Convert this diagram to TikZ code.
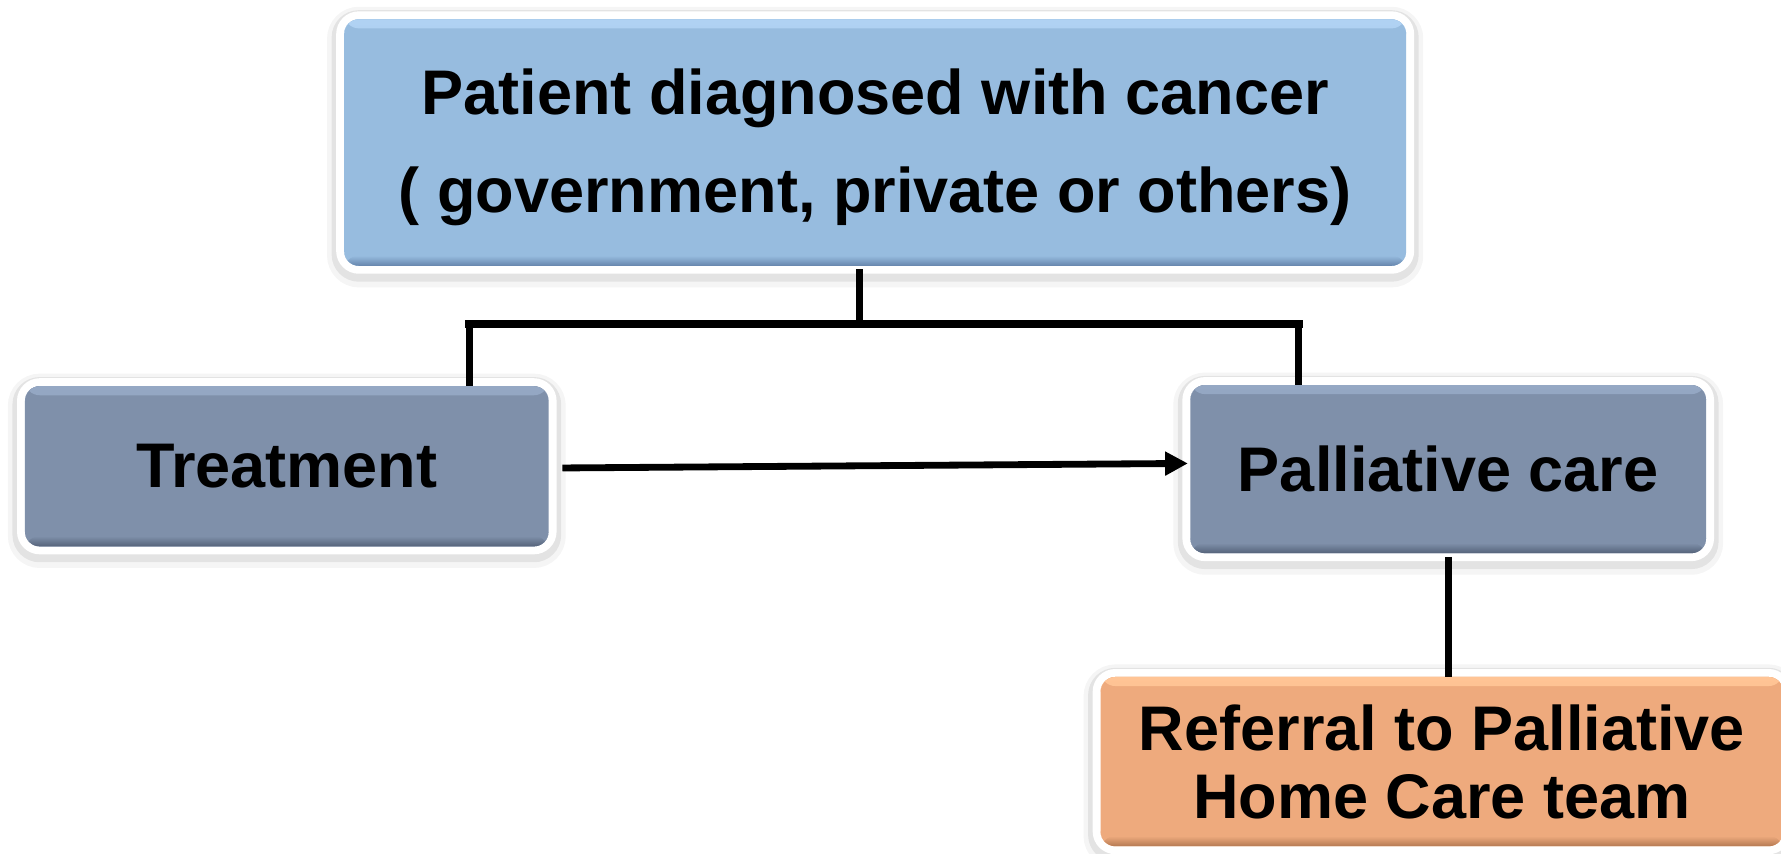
\documentclass[tikz,border=0pt]{standalone}
\usepackage{fontspec}
\setmainfont{Liberation Sans}
\usetikzlibrary{arrows.meta}
\definecolor{blueF}{HTML}{97BCDF}
\definecolor{blueL}{HTML}{B0D2F3}
\definecolor{blueD}{HTML}{6685AC}
\definecolor{slateF}{HTML}{7F90AA}
\definecolor{slateL}{HTML}{95A8C4}
\definecolor{slateD}{HTML}{55637A}
\definecolor{orgF}{HTML}{EEAA7D}
\definecolor{orgL}{HTML}{FFC495}
\definecolor{orgD}{HTML}{B57A53}
\begin{document}
\begin{tikzpicture}[x=1pt,y=-1pt,
  box/.style n args={3}{rectangle, rounded corners=13pt, inner sep=0pt, align=center,
    font=\bfseries\fontsize{55.5}{86}\selectfont,
    preaction={draw=black, draw opacity=0.04, line width=30pt, transform canvas={yshift=-4pt}},
    preaction={draw=black, draw opacity=0.07, line width=22pt, transform canvas={yshift=-3pt}},
    preaction={draw=white, line width=14pt},
    fill=#1,
    path picture={
      \fill[top color=#2, bottom color=#1] (path picture bounding box.north west) rectangle ([yshift=-8pt]path picture bounding box.north east);
      \fill[top color=#1, bottom color=#3] ([yshift=9pt]path picture bounding box.south west) rectangle (path picture bounding box.south east);
    }},
  conn/.style={draw=black, line width=6pt},
  bar/.style={draw=black, line width=7pt, line cap=rect}]
\useasboundingbox (0,0) rectangle (1568,751);
\fill[white] (0,0) rectangle (1568,751);

\node[box={blueF}{blueL}{blueD}, minimum width=935pt, minimum height=217pt] (top) at (770.5,125.5)
  {\rule{0pt}{49pt}Patient diagnosed with cancer\\( government, private or others)};
\node[box={slateF}{slateL}{slateD}, minimum width=461pt, minimum height=141pt] (treat) at (252.5,410.5) {Treatment};
\node[box={slateF}{slateL}{slateD}, minimum width=454pt, minimum height=148pt] (pall) at (1275,413) {Palliative care};
\node[box={orgF}{orgL}{orgD}, minimum width=601pt, minimum height=149pt,
  font=\bfseries\fontsize{55.5}{60}\selectfont] (ref) at (1269.5,670.5) {Referral to Palliative\\Home Care team};

\coordinate (jc) at (757,285);
\coordinate (jl) at (413,285);
\coordinate (jr) at (1143.5,285);

\draw[conn] (jc |- top.south) ++(0,3) -- (jc);
\draw[bar] (jl) -- (jr);
\draw[conn] ([yshift=3pt]jl) -- (jl |- treat.north);
\draw[conn] ([yshift=3pt]jr) -- (jr |- pall.north);
\draw[conn, -{Triangle[length=20pt, width=20pt]}] ([xshift=12pt,yshift=-1.5pt]treat.east) -- ([xshift=-2pt,yshift=5pt]pall.west);
\draw[conn] ([yshift=-3pt]pall.south) -- (pall.south |- ref.north);
\end{tikzpicture}
\end{document}
